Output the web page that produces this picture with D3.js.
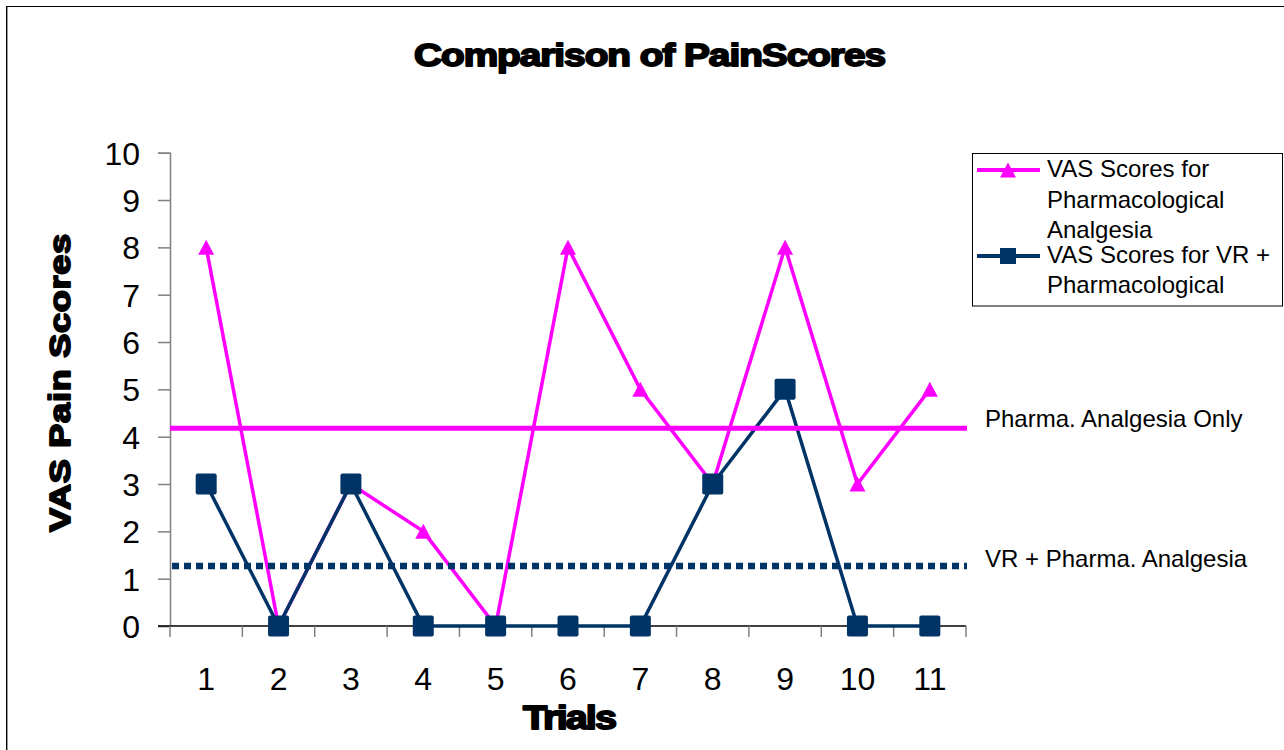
<!DOCTYPE html>
<html>
<head>
<meta charset="utf-8">
<script src="https://cdn.jsdelivr.net/npm/d3@7"></script>
<style>
  html, body { margin: 0; padding: 0; background: #fff; }
  svg { display: block; }
  text { font-family: "Liberation Sans", Arial, sans-serif; }
</style>
</head>
<body>
<svg id="chart" width="1284" height="750"></svg>
<script>
// ---- Data ----
const trials = ["1","2","3","4","5","6","7","8","9","10","11"];
const pharmaScores = [8, 0, 3, 2, 0, 8, 5, 3, 8, 3, 5];
const vrScores = [3, 0, 3, 0, 0, 0, 0, 3, 5, 0, 0];
const yTicks = [0,1,2,3,4,5,6,7,8,9,10];
const pharmaMean = 4.18;
const vrMean = 1.27;
const seriesNames = ["VAS Scores for Pharmacological Analgesia", "VAS Scores for VR + Pharmacological"];
const meanLabels = ["Pharma. Analgesia Only", "VR + Pharma. Analgesia"];
const titleText = "Comparison of PainScores";
const xTitle = "Trials";
const yTitle = "VAS Pain Scores";

// ---- Layout ----
const PINK = "#FF00FF", NAVY = "#003366";
const svg = d3.select("#chart");
const plot = {left: 170, right: 966, top: 152.7, bottom: 626};

const x = d3.scaleBand().domain(trials).range([plot.left, plot.right]).padding(0);
const y = d3.scaleLinear().domain([0, 10]).range([plot.bottom, plot.top]);
const cx = d => x(d) + x.bandwidth() / 2;

// outer border
svg.append("rect").attr("x", 6.5).attr("y", 6.5).attr("width", 1290).attr("height", 760)
  .attr("fill", "none").attr("stroke", "#000").attr("stroke-width", 1);
svg.append("line").attr("x1", 7.5).attr("x2", 7.5).attr("y1", 7).attr("y2", 750)
  .attr("stroke", "#999").attr("stroke-width", 1);

// heavy, tightly spaced bold text (wide glyphs, negative spacing)
function heavyText(g, str, size, sx, targetLen) {
  return g.append("text").text(str)
    .attr("transform", `scale(${sx},1)`)
    .attr("font-size", size).attr("font-weight", "bold")
    .attr("textLength", targetLen / sx).attr("lengthAdjust", "spacing")
    .attr("stroke", "#000").attr("stroke-width", 1.8).attr("stroke-linejoin", "round");
}

// title
heavyText(svg.append("g").attr("transform", "translate(414,66)"), titleText, 31, 1.25, 472);

// y axis
const yAxis = d3.axisLeft(y).tickValues(yTicks).tickSize(12).tickPadding(18);
const gy = svg.append("g").attr("transform", `translate(${plot.left},0)`).call(yAxis);
gy.select(".domain").attr("stroke", "#808080").attr("stroke-width", 1.5);
gy.selectAll(".tick line").attr("stroke", "#808080").attr("stroke-width", 1.5);
gy.selectAll(".tick text").attr("font-size", 32).attr("fill", "#000")
  .attr("font-family", "'Liberation Sans', Arial, sans-serif").attr("dy", "0.36em");

// x axis: ticks at band boundaries
const gx = svg.append("g");
gx.append("line").attr("x1", plot.left - 12).attr("x2", plot.right).attr("y1", plot.bottom).attr("y2", plot.bottom)
  .attr("stroke", "#000").attr("stroke-width", 1.5);
const boundaries = trials.map(t => x(t)).concat([plot.right]);
gx.selectAll("line.xt").data(boundaries).join("line").attr("class", "xt")
  .attr("x1", d => d).attr("x2", d => d).attr("y1", plot.bottom).attr("y2", plot.bottom + 11)
  .attr("stroke", "#808080").attr("stroke-width", 1.5);
gx.selectAll("text.xl").data(trials).join("text").attr("class", "xl")
  .attr("x", d => cx(d)).attr("y", 690).attr("text-anchor", "middle")
  .attr("font-size", 32).text(d => d);

// axis titles
heavyText(svg.append("g").attr("transform", "translate(523,729)"), xTitle, 33, 1.2, 94);
heavyText(svg.append("g").attr("transform", "translate(70,532) rotate(-90)"), yTitle, 30, 1.2, 298);

// markers
const triPath = (w, h) => `M0,${-h/2}L${w/2},${h/2}L${-w/2},${h/2}Z`;

// pink series
const line = d3.line().x((d, i) => cx(trials[i])).y(d => y(d));
svg.append("path").datum(pharmaScores).attr("d", line)
  .attr("fill", "none").attr("stroke", PINK).attr("stroke-width", 3.5).attr("stroke-linejoin", "miter");
svg.selectAll("path.tri").data(pharmaScores).join("path").attr("class", "tri")
  .attr("transform", (d, i) => `translate(${cx(trials[i])},${y(d)})`)
  .attr("d", triPath(16, 15)).attr("fill", PINK);

// navy series
svg.append("path").datum(vrScores).attr("d", line)
  .attr("fill", "none").attr("stroke", NAVY).attr("stroke-width", 3.5);
svg.selectAll("rect.sq").data(vrScores).join("rect").attr("class", "sq")
  .attr("x", (d, i) => cx(trials[i]) - 10.5).attr("y", d => y(d) - 10.5)
  .attr("width", 21).attr("height", 21).attr("rx", 2).attr("fill", NAVY);

// mean lines
svg.append("line").attr("x1", plot.left).attr("x2", 967)
  .attr("y1", y(pharmaMean)).attr("y2", y(pharmaMean))
  .attr("stroke", PINK).attr("stroke-width", 5);
svg.append("line").attr("x1", plot.left + 2).attr("x2", 967)
  .attr("y1", y(vrMean)).attr("y2", y(vrMean))
  .attr("stroke", NAVY).attr("stroke-width", 6.5).attr("stroke-dasharray", "7,5");

svg.append("text").attr("x", 985).attr("y", 427).attr("font-size", 24).text(meanLabels[0]);
svg.append("text").attr("x", 985).attr("y", 567).attr("font-size", 24).text(meanLabels[1]);

// legend
const lg = svg.append("g");
lg.append("rect").attr("x", 972.5).attr("y", 153.5).attr("width", 310).attr("height", 152.5)
  .attr("fill", "#fff").attr("stroke", "#000").attr("stroke-width", 1);
lg.append("line").attr("x1", 977).attr("x2", 1040).attr("y1", 170).attr("y2", 170)
  .attr("stroke", PINK).attr("stroke-width", 4);
lg.append("path").attr("transform", "translate(1008,170)").attr("d", triPath(16, 15)).attr("fill", PINK);
lg.append("line").attr("x1", 977).attr("x2", 1040).attr("y1", 256).attr("y2", 256)
  .attr("stroke", NAVY).attr("stroke-width", 4);
lg.append("rect").attr("x", 1000).attr("y", 248).attr("width", 16).attr("height", 16).attr("fill", NAVY);

const legendLines = [
  ["VAS Scores for", 177], ["Pharmacological", 208], ["Analgesia", 238],
  ["VAS Scores for VR +", 263], ["Pharmacological", 293]
];
lg.selectAll("text").data(legendLines).join("text")
  .attr("x", 1047).attr("y", d => d[1]).attr("font-size", 24).text(d => d[0]);
</script>
</body>
</html>
